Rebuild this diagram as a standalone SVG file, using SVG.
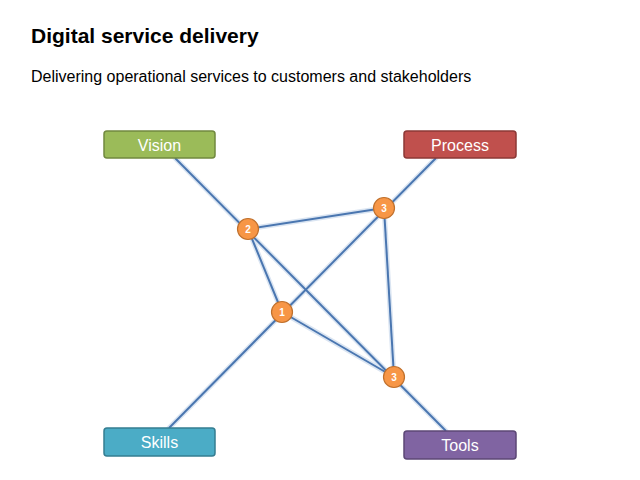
<svg xmlns="http://www.w3.org/2000/svg" width="640" height="480" viewBox="0 0 640 480">
<style>
.title{font-family:"Liberation Sans",Arial,sans-serif;font-size:21px;font-weight:bold;fill:#000}
.sub{font-family:"Liberation Sans",Arial,sans-serif;font-size:16px;fill:#000}
.lbl{font-family:"Liberation Sans",Arial,sans-serif;font-size:16px;fill:#fff;text-anchor:middle}
.num{font-family:"Liberation Sans",Arial,sans-serif;font-size:10px;font-weight:bold;fill:#fff;text-anchor:middle}
.halo{stroke:#c3d4ea;stroke-width:5;fill:none;stroke-linecap:round;opacity:0.6}
.ln{stroke:#4a76b0;stroke-width:2;fill:none}
.dot{fill:#f79646;stroke:#c0702c;stroke-width:1.2}
.box{stroke-width:1.5}
</style>
<rect width="640" height="480" fill="#fff"/>
<text class="title" x="31" y="43">Digital service delivery</text>
<text class="sub" x="31" y="82">Delivering operational services to customers and stakeholders</text>
<g id="connectors">
<g class="halo">
<line x1="175" y1="158" x2="446" y2="431"/>
<line x1="436" y1="158" x2="169" y2="428"/>
<line x1="248" y1="229" x2="384" y2="208"/>
<line x1="248" y1="229" x2="282" y2="312"/>
<line x1="282" y1="312" x2="394" y2="377"/>
<line x1="384" y1="208" x2="394" y2="377"/>
</g>
<g class="ln">
<line x1="175" y1="158" x2="446" y2="431"/>
<line x1="436" y1="158" x2="169" y2="428"/>
<line x1="248" y1="229" x2="384" y2="208"/>
<line x1="248" y1="229" x2="282" y2="312"/>
<line x1="282" y1="312" x2="394" y2="377"/>
<line x1="384" y1="208" x2="394" y2="377"/>
</g>
</g>
<g id="vision"><rect class="box" x="104" y="131" width="111" height="27" rx="3" fill="#9bbb59" stroke="#71893f"/><text class="lbl" x="159.5" y="150.5">Vision</text></g>
<g id="process"><rect class="box" x="404" y="131" width="112" height="27" rx="3" fill="#c0504d" stroke="#8c3836"/><text class="lbl" x="460" y="150.5">Process</text></g>
<g id="skills"><rect class="box" x="104" y="428" width="111" height="28" rx="3" fill="#4bacc6" stroke="#357d91"/><text class="lbl" x="159.5" y="447.5">Skills</text></g>
<g id="tools"><rect class="box" x="404" y="431" width="112" height="28" rx="3" fill="#8064a2" stroke="#5c4776"/><text class="lbl" x="460" y="451">Tools</text></g>
<g id="n2"><circle class="dot" cx="248" cy="229" r="10.5"/><text class="num" x="248" y="232.5">2</text></g>
<g id="n3a"><circle class="dot" cx="384" cy="208" r="10.5"/><text class="num" x="384" y="211.5">3</text></g>
<g id="n1"><circle class="dot" cx="282" cy="312" r="10.5"/><text class="num" x="282" y="315.5">1</text></g>
<g id="n3b"><circle class="dot" cx="394" cy="377" r="10.5"/><text class="num" x="394" y="380.5">3</text></g>
</svg>
